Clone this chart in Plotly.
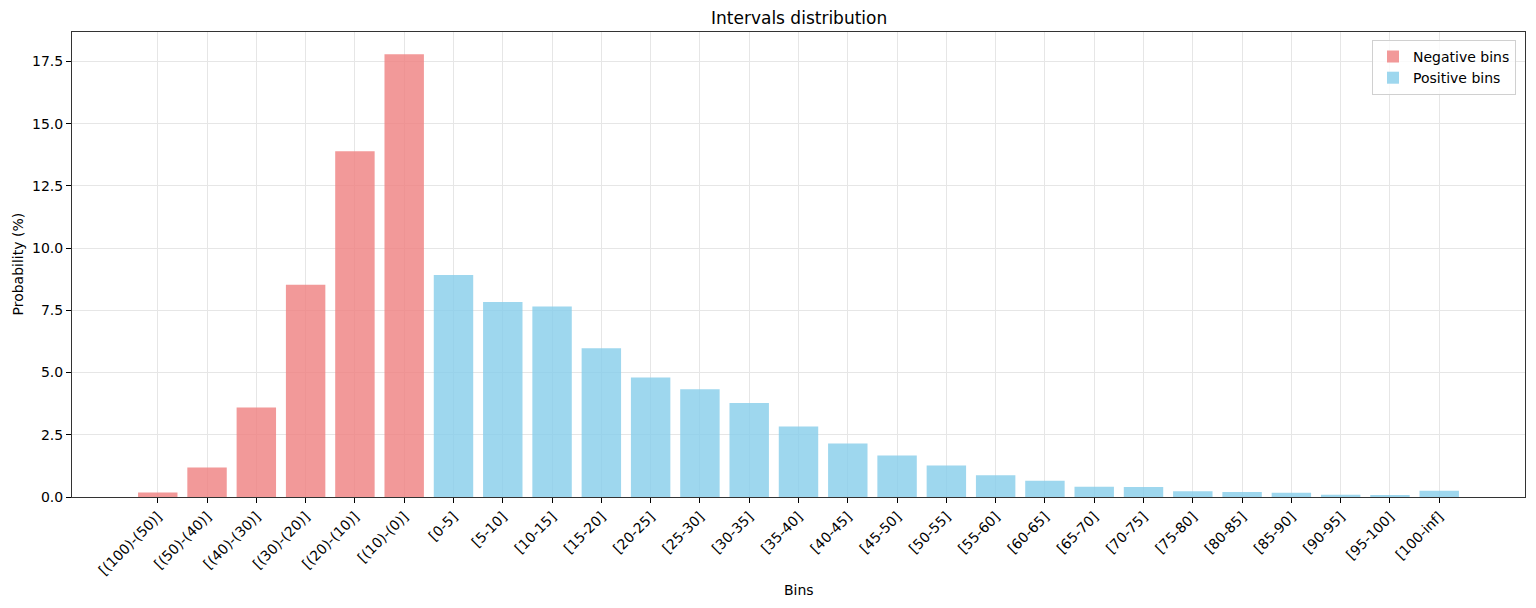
import plotly.graph_objects as go

neg_labels = ["[(100)-(50)]", "[(50)-(40)]", "[(40)-(30)]", "[(30)-(20)]", "[(20)-(10)]", "[(10)-(0)]"]
neg_values = [0.18, 1.19, 3.60, 8.53, 13.89, 17.79]

pos_labels = ["[0-5]", "[5-10]", "[10-15]", "[15-20]", "[20-25]", "[25-30]", "[30-35]",
              "[35-40]", "[40-45]", "[45-50]", "[50-55]", "[55-60]", "[60-65]", "[65-70]",
              "[70-75]", "[75-80]", "[80-85]", "[85-90]", "[90-95]", "[95-100]", "[100-inf]"]
pos_values = [8.92, 7.83, 7.65, 5.98, 4.80, 4.33, 3.78, 2.83, 2.15, 1.67, 1.27, 0.87,
              0.65, 0.41, 0.40, 0.23, 0.20, 0.17, 0.09, 0.05, 0.25]

y_ticks = [0, 2.5, 5.0, 7.5, 10.0, 12.5, 15.0, 17.5]

all_labels = neg_labels + pos_labels
n = len(all_labels)
ymax = max(neg_values + pos_values) * 1.05
span = (n - 1) + 0.8
xpad = 0.05 * span

FONT = "DejaVu Sans"

fig = go.Figure()
fig.add_trace(go.Bar(x=neg_labels, y=neg_values, name="Negative bins", width=0.8,
                     marker=dict(color="#F08080", line=dict(width=0)), opacity=0.8))
fig.add_trace(go.Bar(x=pos_labels, y=pos_values, name="Positive bins", width=0.8,
                     marker=dict(color="#87CEEB", line=dict(width=0)), opacity=0.8))

L, R, T, B = 72, 11, 32, 111
W, H = 1536, 608

fig.update_layout(
    width=W, height=H,
    margin=dict(l=L, r=R, t=T, b=B),
    paper_bgcolor="white", plot_bgcolor="white",
    barmode="overlay",
    font=dict(family=FONT, size=14, color="black"),
    showlegend=True,
    legend=dict(x=0.9938, xanchor="right", y=0.983, yanchor="top",
                bgcolor="rgba(255,255,255,0.8)", bordercolor="#d0d0d0", borderwidth=1,
                font=dict(size=14), itemwidth=30),
    xaxis=dict(type="category", categoryorder="array", categoryarray=all_labels,
               range=[-0.4 - xpad, n - 1 + 0.4 + xpad],
               tickangle=-45, ticks="outside", ticklen=5, tickcolor="black",
               showgrid=True, gridcolor="#e6e6e6", gridwidth=1,
               showline=True, linecolor="#333333", linewidth=1, mirror=True,
               tickfont=dict(size=14)),
    yaxis=dict(range=[0, ymax], tickvals=y_ticks, tickformat=".1f",
               ticks="outside", ticklen=5, tickcolor="black",
               showgrid=True, gridcolor="#e6e6e6", gridwidth=1,
               showline=True, linecolor="#333333", linewidth=1, mirror=True,
               zeroline=False, tickfont=dict(size=14)),
    annotations=[
        dict(text="Intervals distribution", xref="paper", yref="paper", x=0.5,
             y=1 + (T - 18) / (H - T - B), xanchor="center", yanchor="middle",
             showarrow=False, font=dict(size=17, family=FONT)),
        dict(text="Bins", xref="paper", yref="paper", x=0.5,
             y=-(590 - (H - B)) / (H - T - B), xanchor="center", yanchor="middle",
             showarrow=False, font=dict(size=14, family=FONT)),
        dict(text="Probability (%)", xref="paper", yref="paper",
             x=-(L - 17) / (W - L - R), y=0.5, xanchor="center", yanchor="middle",
             textangle=-90, showarrow=False, font=dict(size=14, family=FONT)),
    ],
)

fig.write_html("out.html")
